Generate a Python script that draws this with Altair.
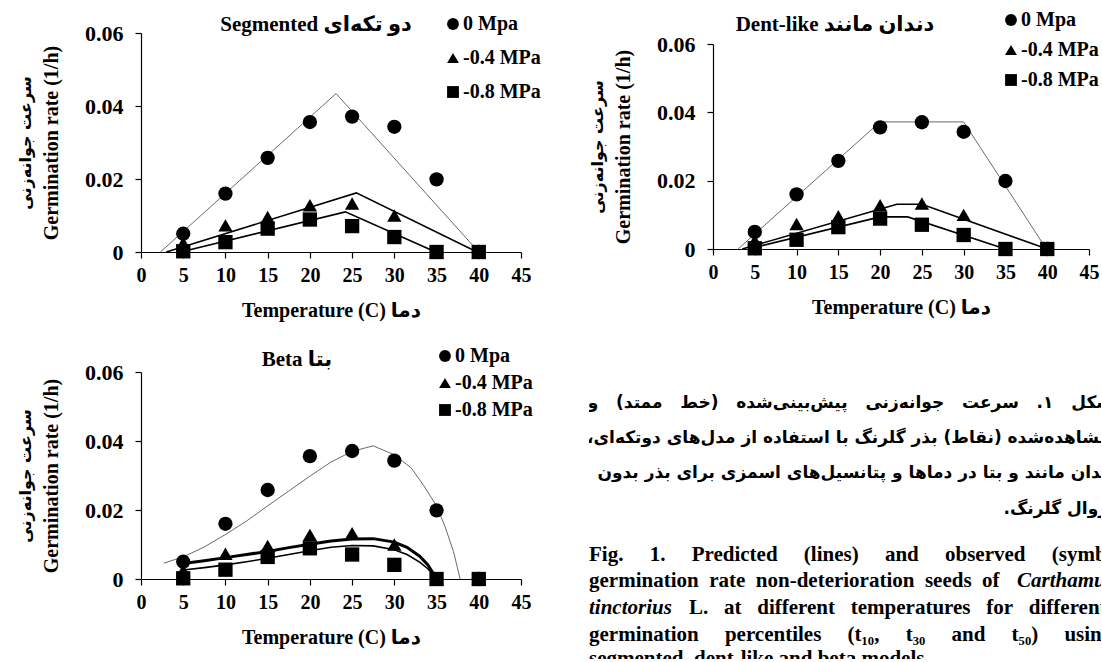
import altair as alt
import pandas as pd

# ---------------- data ----------------
SERIES = ["0 Mpa", "-0.4 MPa", "-0.8 MPa"]
SHAPES = ["circle", "triangle-up", "square"]

T_OBS = [5, 10, 15, 20, 25, 30, 35, 40]
OBS_0 = [0.0050, 0.0160, 0.0258, 0.0356, 0.0371, 0.0343, 0.0199, 0.0]
OBS_04 = [0.0025, 0.0073, 0.0096, 0.0128, 0.0133, 0.0100, 0.0, 0.0]
OBS_08 = [0.0002, 0.0027, 0.0064, 0.0089, 0.0071, 0.0041, 0.0, 0.0]

SEG_T_0 = [2.3, 23.1, 40.0]
SEG_R_0 = [0.0, 0.0434, 0.0]
SEG_T_04 = [3.0, 25.5, 39.8]
SEG_R_04 = [0.0, 0.0162, 0.0]
SEG_T_08 = [4.7, 24.2, 34.9]
SEG_R_08 = [0.0, 0.0110, 0.0]

DENT_T_0 = [3.0, 20.0, 30.0, 39.9]
DENT_R_0 = [0.0, 0.0372, 0.0372, 0.0]
DENT_T_04 = [3.5, 22.0, 25.0, 40.0]
DENT_R_04 = [0.0, 0.0131, 0.0131, 0.0]
DENT_T_08 = [4.2, 20.0, 23.3, 35.0]
DENT_R_08 = [0.0, 0.0094, 0.0094, 0.0]

BETA_T_0 = [2.7, 5, 7.5, 10, 12.5, 15, 17.5, 20, 22.5, 25, 27.5, 30, 32, 33.5, 35, 36, 37, 37.8]
BETA_R_0 = [0.0046, 0.0064, 0.0093, 0.0129, 0.0168, 0.0212, 0.0255, 0.0298, 0.0339, 0.0370, 0.0386,
            0.0360, 0.0322, 0.0270, 0.0212, 0.0152, 0.0080, 0.0]
BETA_T_W = [5, 7.5, 10, 12.5, 15, 17.5, 20, 22.5, 25, 27.5, 30, 31.5, 33, 34, 35]
BETA_R_04 = [0.0045, 0.0053, 0.0062, 0.0071, 0.0080, 0.0091, 0.0101, 0.0110, 0.0116, 0.0117,
             0.0107, 0.0092, 0.0066, 0.0040, 0.0]
BETA_R_08 = [0.0026, 0.0033, 0.0041, 0.0050, 0.0060, 0.0071, 0.0082, 0.0092, 0.0097, 0.0096,
             0.0085, 0.0071, 0.0049, 0.0029, 0.0]

X_TICKS = [0, 5, 10, 15, 20, 25, 30, 35, 40, 45]
Y_TICKS = [0, 0.02, 0.04, 0.06]

# ---------------- texts ----------------
RLM = "\u200f"
NB = "\u00a0"
Y_TITLE_EN = "Germination rate (1/h)"
Y_TITLE_FA = "سرعت جوانه\u200cزنی"
X_TITLE = "Temperature (C) دما"
SEG_TITLE = "Segmented دو تکه\u200cای"
DENT_TITLE = "Dent-like دندان مانند"
BETA_TITLE = "Beta بتا"

FA_LINES = [
    (["شکل", "۱.", "سرعت", "جوانه\u200cزنی", "پیش\u200cبینی\u200cشده", "(خط", "ممتد)", "و"], 3),
    (["مشاهده\u200cشده", "(نقاط)", "بذر", "گلرنگ", "با", "استفاده", "از", "مدل\u200cهای", "دوتکه\u200cای،"], 1),
    (["دندان", "مانند", "و", "بتا", "در", "دماها", "و", "پتانسیل\u200cهای", "اسمزی", "برای", "بذر", "بدون"], 1),
    (["زوال", "گلرنگ."], 1),
]
EN_PLAIN = [
    (["Fig.", "1.", "Predicted", "(lines)", "and", "observed", "(symbols)"], 5),
    (["germination", "rate", "non-deterioration", "seeds", "of"], 2),
    (["L.", "at", "different", "temperatures", "for", "different"], 3),
    (["germination", "percentiles", "(t\u2081\u2080,", "t\u2083\u2080", "and", "t\u2085\u2080)", "using"], 5),
    (["segmented,", "dent-like", "and", "beta", "models."], 1),
]
EN_ITALIC = ["Carthamus", "tinctorius"]

# ---------------- layout / styles ----------------
SERIF = "Liberation Serif, DejaVu Sans"
PERSIAN = "DejaVu Sans"
LINE_COLORS = ["#6a6a6a", "black", "black"]
CAP_W, CAP_H = 512, 287
FA_X = [524, 521, 527, 519]
FA_Y = [31, 66, 101, 137]
EN_X = [0, 0, 100, 0, 0]
EN_Y = [183, 209, 236, 263, 287]
IT_X = [428, 0]
IT_Y = [209, 236]


obs_rows = []
for s, vals in zip(SERIES, [OBS_0, OBS_04, OBS_08]):
    for t, v in zip(T_OBS, vals):
        obs_rows.append({"series": s, "T": t, "rate": v})
obs_df = pd.DataFrame(obs_rows)


def curve(ts, rs):
    return pd.DataFrame({"T": ts, "rate": rs})


SEG_CURVES = [curve(SEG_T_0, SEG_R_0), curve(SEG_T_04, SEG_R_04), curve(SEG_T_08, SEG_R_08)]
DENT_CURVES = [curve(DENT_T_0, DENT_R_0), curve(DENT_T_04, DENT_R_04), curve(DENT_T_08, DENT_R_08)]
BETA_CURVES = [curve(BETA_T_0, BETA_R_0), curve(BETA_T_W, BETA_R_04), curve(BETA_T_W, BETA_R_08)]


def panel(curves, widths, title, title_dx, title_dy, width, height, x_range, y_range,
          y_off, leg_x, leg_y, leg_pad):
    xkw = dict(domain=[0, 45], nice=False, zero=False)
    ykw = dict(domain=[0, 0.06], nice=False, zero=True)
    xr = x_range if x_range else [0, width]
    yr = y_range if y_range else [height, 0]
    if x_range:
        xkw["range"] = x_range
    if y_range:
        ykw["range"] = y_range
    xs = alt.Scale(**xkw)
    ys = alt.Scale(**ykw)
    xmid = (xr[0] + xr[1]) / 2
    ymid = (yr[0] + yr[1]) / 2

    x_axis = alt.Axis(values=X_TICKS, title=X_TITLE, titleX=xmid, titleY=58,
                      titleAlign="center", titleBaseline="middle",
                      labelPadding=7, tickSize=6, labelFlush=False, labelFontSize=20)
    y_axis = alt.Axis(values=Y_TICKS, title=Y_TITLE_EN,
                      labelExpr="datum.value == 0 ? '0' : format(datum.value, '.2f')",
                      titleX=-90, titleY=ymid, titleAngle=270, titleAlign="center",
                      titleBaseline="middle", offset=y_off, tickSize=6, labelPadding=12,
                      labelFontSize=22)
    fa_axis = alt.Axis(orient="left", title=Y_TITLE_FA, labels=False, ticks=False,
                       domain=False, grid=False, titleFont=PERSIAN, titleFontSize=16,
                       titleFontWeight="bold", titleColor="black", titleX=-116, titleY=ymid,
                       titleAngle=270, titleAlign="center", titleBaseline="middle",
                       offset=y_off)

    layers = []
    for i, (df, col, w) in enumerate(zip(curves, LINE_COLORS, widths)):
        layers.append(alt.Chart(df).mark_line(color=col, strokeWidth=w).encode(
            x=alt.X("T:Q", scale=xs, axis=x_axis),
            y=alt.Y("rate:Q", scale=ys, axis=y_axis if i == 0 else None),
        ))
    pts = alt.Chart(obs_df).mark_point(filled=True, opacity=1, color="black", size=205).encode(
        x=alt.X("T:Q", scale=xs, axis=x_axis),
        y=alt.Y("rate:Q", scale=ys, axis=fa_axis),
        shape=alt.Shape("series:N", scale=alt.Scale(domain=SERIES, range=SHAPES),
                        legend=alt.Legend(orient="none", legendX=leg_x, legendY=leg_y, title=None,
                                          direction="vertical",
                                          labelFont=SERIF, labelFontSize=20, labelFontWeight="bold",
                                          labelColor="black", symbolSize=140,
                                          symbolFillColor="black", symbolStrokeColor="black",
                                          symbolStrokeWidth=0,
                                          labelOffset=0, rowPadding=leg_pad, padding=0)),
    )
    layers.append(pts)
    return alt.layer(*layers).resolve_axis(y="independent").properties(
        width=width, height=height,
        title=alt.TitleParams(title, font=SERIF, fontSize=21, fontWeight="bold", color="black",
                              anchor="middle", frame="group", dx=title_dx, dy=title_dy, offset=0),
    )


seg = panel(SEG_CURVES, [1, 1.6, 1.6], SEG_TITLE, -15, 21, 380, 219, None, None, 0, 302, -19, 14)
dent = panel(DENT_CURVES, [1, 1.6, 1.6], DENT_TITLE, -4, 25, 500, 216, [124, 500], [216, 11], -124,
             412, -23, 10)
beta = panel(BETA_CURVES, [1, 3, 1.6], BETA_TITLE, -34, 24, 380, 207, None, None, 0, 294, -26, 7)

# ---------------- caption ----------------
cap_rows = []
for (words, gap), x, y in zip(FA_LINES, FA_X, FA_Y):
    cap_rows.append({"kind": "fa", "label": RLM + (NB * gap).join(words) + RLM, "x": x, "y": y})
for (words, gap), x, y in zip(EN_PLAIN, EN_X, EN_Y):
    cap_rows.append({"kind": "en", "label": (NB * gap).join(words), "x": x, "y": y})
for t, x, y in zip(EN_ITALIC, IT_X, IT_Y):
    cap_rows.append({"kind": "it", "label": t, "x": x, "y": y})
cap_df = pd.DataFrame(cap_rows)

cx = alt.X("x:Q", scale=alt.Scale(domain=[0, CAP_W], nice=False, zero=False), axis=None)
cy = alt.Y("y:Q", scale=alt.Scale(domain=[CAP_H, 0], nice=False, zero=False), axis=None)
cap_base = alt.Chart(cap_df)
fa_text = cap_base.mark_text(align="right", baseline="middle", font=PERSIAN, fontSize=17,
                             fontWeight="bold", color="black", clip=True).encode(
    x=cx, y=cy, text="label:N").transform_filter(alt.datum.kind == "fa")
en_text = cap_base.mark_text(align="left", baseline="middle", font=SERIF, fontSize=21,
                             fontWeight="bold", color="black", clip=True).encode(
    x=cx, y=cy, text="label:N").transform_filter(alt.datum.kind == "en")
it_text = cap_base.mark_text(align="left", baseline="middle", font=SERIF, fontSize=21,
                             fontWeight="bold", fontStyle="italic", color="black", clip=True).encode(
    x=cx, y=cy, text="label:N").transform_filter(alt.datum.kind == "it")
caption = alt.layer(fa_text, en_text, it_text).properties(width=CAP_W, height=CAP_H)

chart = alt.concat(seg, dent, beta, caption, columns=2,
                   spacing={"row": 120, "column": 68}, bounds="flush", align="each").resolve_scale(
    shape="independent",
).resolve_legend(shape="independent").properties(
    padding={"left": 17, "top": 10, "right": 0, "bottom": 0},
    background="white",
).configure_view(stroke=None).configure_axis(
    labelFont=SERIF, labelFontSize=20, labelFontWeight="bold", labelColor="black",
    titleFont=SERIF, titleFontSize=20, titleFontWeight="bold", titleColor="black",
    domainColor="black", tickColor="black", grid=False, domainWidth=1.2, tickWidth=1.2,
)

chart.save("out.html", embed_options={"renderer": "svg", "actions": False})
